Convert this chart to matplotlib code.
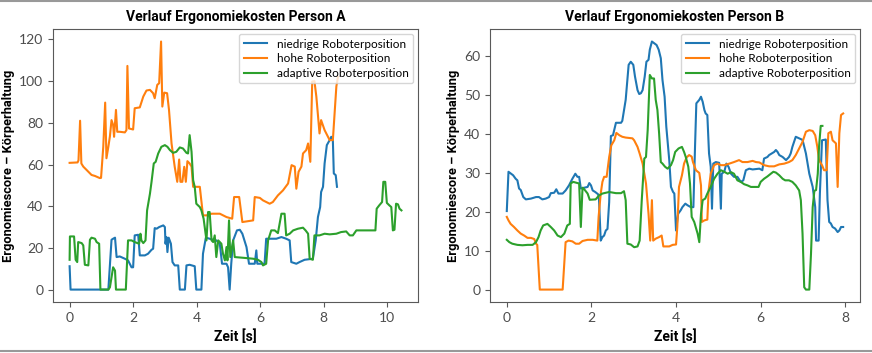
import matplotlib.pyplot as plt
from matplotlib.lines import Line2D

# Person A
a_t_niedrig = [0.0, 0.03, 1.22, 1.32, 1.37, 1.43, 1.48, 1.58, 1.74, 1.84, 1.95, 2.00, 2.05, 2.16, 2.21, 2.37,
               2.47, 2.58, 2.63, 2.68, 2.74, 2.82, 2.95, 3.00, 3.02, 3.05, 3.08, 3.12, 3.19, 3.24, 3.31, 3.42,
               3.47, 3.63, 3.68, 3.78, 3.94, 3.99, 4.15, 4.20, 4.29, 4.41, 4.52, 4.62, 4.73, 4.80, 4.94, 4.99,
               5.04, 5.09, 5.15, 5.27, 5.36, 5.44, 5.57, 5.65, 5.83, 5.88, 5.91, 6.14, 6.19, 6.51, 6.67, 6.82,
               6.93, 6.98, 7.14, 7.24, 7.40, 7.66, 7.75, 7.82, 7.89, 7.92, 7.98, 8.03, 8.10, 8.19, 8.24, 8.29,
               8.32, 8.38, 8.42]
a_v_niedrig = [11.2, 0, 0, 23.9, 24.4, 24.9, 15.6, 15.9, 14.8, 14.0, 10.7, 10.7, 26.0, 26.3, 16.4, 16.4,
               17.2, 19.1, 19.6, 29.5, 29.2, 30.0, 30.8, 30.0, 22.0, 25.2, 18.0, 24.9, 22.0, 13.2, 11.6, 11.6,
               0, 0, 11.6, 11.9, 11.2, 0, 0, 17.2, 24.9, 24.4, 23.9, 23.6, 22.0, 12.4, 12.4, 10.7,
               0, 12.4, 23.6, 28.4, 28.7, 26.8, 20.4, 12.4, 12.4, 18.8, 12.4, 12.4, 24.4, 24.4, 25.2, 24.4,
               23.6, 13.2, 12.4, 13.2, 14.3, 14.8, 23.6, 34.8, 39.6, 46.8, 49.3, 60.5, 69.3, 71.7, 73.3, 71.7,
               55.7, 54.9, 49.3]

a_t_hoch = [0.0, 0.25, 0.28, 0.33, 0.37, 0.43, 0.56, 0.69, 0.80, 0.95, 0.99, 1.06, 1.12, 1.16, 1.22, 1.27,
            1.32, 1.37, 1.40, 1.46, 1.50, 1.58, 1.74, 1.79, 1.82, 1.87, 2.00, 2.05, 2.21, 2.32, 2.42, 2.53,
            2.63, 2.68, 2.76, 2.82, 2.88, 2.92, 2.98, 3.07, 3.13, 3.21, 3.31, 3.39, 3.45, 3.49, 3.55, 3.61,
            3.66, 3.71, 3.78, 3.84, 3.89, 4.10, 4.20, 4.31, 4.47, 4.73, 4.94, 5.12, 5.18, 5.34, 5.44, 5.78,
            5.83, 5.99, 6.09, 6.30, 6.40, 6.56, 6.72, 6.88, 6.99, 7.09, 7.14, 7.21, 7.30, 7.35, 7.45, 7.51,
            7.58, 7.64, 7.71, 7.77, 7.87, 7.92, 8.03, 8.19, 8.29, 8.40, 8.45]
a_v_hoch = [60.8, 61.0, 62.0, 81.0, 60.5, 59.0, 57.0, 55.0, 54.5, 53.5, 53.6, 68.5, 89.7, 63.0, 68.5, 73.6,
            81.3, 79.0, 73.3, 86.2, 75.7, 75.7, 75.4, 76.5, 107.3, 77.3, 76.8, 87.0, 87.4, 92.6, 95.5, 95.8,
            94.2, 91.8, 98.2, 99.0, 119.0, 87.8, 94.5, 94.2, 86.2, 70.1, 58.9, 51.7, 62.4, 51.7, 51.7, 58.9,
            51.7, 61.6, 60.5, 59.0, 49.3, 49.3, 35.6, 35.6, 36.4, 36.4, 34.8, 34.0, 44.4, 44.4, 32.4, 33.2,
            44.4, 44.0, 42.8, 41.2, 42.0, 45.2, 47.6, 50.9, 59.7, 59.0, 48.4, 56.5, 59.0, 65.3, 66.9, 70.1,
            61.3, 99.8, 100.0, 92.6, 74.9, 81.3, 76.5, 71.7, 71.7, 97.4, 102.0]

a_t_adaptiv = [0.0, 0.01, 0.14, 0.19, 0.24, 0.27, 0.38, 0.43, 0.48, 0.59, 0.64, 0.69, 0.80, 0.85, 0.93, 0.97,
               1.22, 1.27, 1.37, 1.43, 1.46, 1.77, 1.84, 1.95, 2.05, 2.19, 2.23, 2.26, 2.32, 2.39, 2.44, 2.53,
               2.58, 2.65, 2.71, 2.79, 2.89, 3.00, 3.08, 3.16, 3.26, 3.36, 3.47, 3.57, 3.68, 3.73, 3.78, 3.84,
               3.89, 3.94, 3.99, 4.10, 4.15, 4.22, 4.31, 4.36, 4.41, 4.47, 4.52, 4.57, 4.62, 4.68, 4.78, 4.83,
               4.89, 4.94, 4.97, 5.02, 5.06, 5.15, 5.20, 5.51, 5.78, 5.93, 6.04, 6.09, 6.19, 6.25, 6.35, 6.46,
               6.56, 6.67, 6.77, 6.82, 6.93, 7.04, 7.19, 7.35, 7.43, 7.51, 7.56, 7.66, 7.71, 7.87, 8.03, 8.19,
               8.40, 8.55, 8.71, 8.82, 8.92, 9.03, 9.23, 9.44, 9.63, 9.67, 9.75, 9.84, 9.88, 9.94, 9.99, 10.07,
               10.13, 10.18, 10.23, 10.28, 10.34, 10.39, 10.45]
a_v_adaptiv = [14.3, 25.5, 25.5, 14.3, 13.2, 22.8, 22.3, 21.2, 11.9, 11.6, 23.9, 24.9, 24.4, 22.8, 22.0, 0,
               0, 1.1, 10.7, 9.1, 0, 0, 23.6, 23.6, 22.8, 22.0, 26.8, 23.6, 22.3, 23.6, 38.0, 46.0,
               51.7, 60.5, 61.3, 65.3, 68.5, 69.3, 68.5, 66.9, 65.6, 66.1, 68.2, 67.7, 65.6, 65.3, 74.1, 66.1,
               52.5, 49.3, 41.2, 39.6, 38.0, 34.0, 23.6, 37.2, 37.2, 23.6, 22.8, 26.0, 15.6, 23.6, 22.0, 17.2,
               14.0, 20.4, 14.0, 33.2, 15.6, 23.6, 15.6, 15.2, 14.8, 14.3, 13.2, 11.6, 12.4, 23.6, 28.4, 28.4,
               27.1, 36.4, 36.4, 26.0, 26.8, 28.4, 29.2, 29.7, 28.4, 26.8, 14.8, 14.3, 26.0, 26.0, 26.8, 26.5,
               26.8, 27.6, 27.9, 26.0, 26.0, 28.4, 28.4, 28.4, 28.4, 38.8, 40.4, 42.0, 51.7, 51.7, 41.6, 40.4,
               39.6, 28.4, 28.7, 41.2, 40.9, 38.8, 38.0]

# Person B
b_t_niedrig = [0.0, 0.04, 0.09, 0.15, 0.21, 0.25, 0.29, 0.33, 0.39, 0.45, 0.57, 0.69, 0.76, 0.84, 0.92, 1.00,
               1.04, 1.12, 1.17, 1.22, 1.32, 1.39, 1.47, 1.55, 1.62, 1.67, 1.71, 1.75, 1.91, 1.95, 1.99, 2.03,
               2.09, 2.16, 2.18, 2.22, 2.26, 2.30, 2.34, 2.38, 2.42, 2.46, 2.51, 2.58, 2.70, 2.73, 2.81, 2.88,
               2.93, 2.99, 3.03, 3.09, 3.13, 3.17, 3.21, 3.26, 3.30, 3.35, 3.38, 3.43, 3.48, 3.54, 3.59, 3.64,
               3.68, 3.73, 3.77, 3.84, 3.88, 3.93, 3.96, 4.00, 4.05, 4.11, 4.15, 4.22, 4.27, 4.35, 4.41, 4.45,
               4.48, 4.55, 4.59, 4.63, 4.67, 4.70, 4.74, 4.78, 4.82, 4.85, 4.88, 4.94, 5.02, 5.06, 5.08, 5.14,
               5.19, 5.24, 5.30, 5.37, 5.45, 5.53, 5.59, 5.65, 5.73, 5.81, 5.89, 5.97, 6.04, 6.08, 6.16, 6.20,
               6.26, 6.32, 6.36, 6.40, 6.44, 6.52, 6.60, 6.67, 6.71, 6.75, 6.79, 6.83, 6.91, 6.99, 7.03, 7.07,
               7.15, 7.23, 7.29, 7.31, 7.37, 7.40, 7.45, 7.54, 7.58, 7.62, 7.66, 7.70, 7.76, 7.82, 7.86, 7.90,
               7.95]
b_v_niedrig = [20.2, 30.3, 29.9, 29.4, 28.5, 28.1, 26.0, 25.6, 23.8, 23.2, 23.4, 23.8, 23.8, 23.2, 23.4, 23.8,
               24.8, 24.9, 25.8, 24.7, 24.7, 25.5, 26.8, 28.5, 29.8, 29.0, 29.0, 26.0, 26.4, 27.4, 26.8, 25.5,
               25.1, 24.5, 23.0, 12.6, 13.5, 13.9, 15.2, 15.6, 22.5, 39.5, 39.7, 42.9, 42.9, 43.4, 48.8, 57.8,
               58.6, 57.8, 54.8, 51.3, 50.3, 50.5, 51.3, 54.8, 58.6, 59.1, 61.7, 63.8, 63.4, 62.9, 61.7, 59.5,
               53.9, 49.6, 41.9, 33.3, 26.4, 25.1, 24.7, 15.2, 19.5, 20.4, 21.2, 22.1, 21.7, 21.2, 21.2, 37.1,
               47.9, 48.8, 49.6, 48.3, 46.2, 45.3, 44.9, 35.0, 31.6, 20.8, 32.4, 32.8, 32.6, 20.8, 29.8, 30.3,
               32.4, 31.6, 29.8, 29.0, 29.0, 27.7, 28.1, 30.7, 31.1, 30.9, 31.0, 31.1, 30.7, 33.7, 34.1, 34.6,
               35.0, 35.4, 35.9, 35.4, 34.6, 34.1, 33.3, 34.1, 35.0, 36.7, 38.0, 39.3, 38.9, 38.5, 36.7, 35.0,
               29.8, 26.4, 21.2, 12.6, 12.6, 24.7, 38.4, 38.6, 23.0, 17.4, 17.0, 16.1, 15.7, 14.8, 15.2, 16.1,
               16.1]

b_t_hoch = [0.0, 0.04, 0.09, 0.17, 0.25, 0.33, 0.41, 0.49, 0.57, 0.65, 0.69, 0.72, 0.78, 1.32, 1.39, 1.46,
            1.55, 1.63, 1.71, 1.79, 1.91, 2.03, 2.14, 2.17, 2.22, 2.26, 2.30, 2.36, 2.42, 2.47, 2.54, 2.59,
            2.66, 2.73, 2.81, 2.97, 3.01, 3.09, 3.14, 3.21, 3.29, 3.35, 3.39, 3.43, 3.46, 3.52, 3.60, 3.66,
            3.70, 3.84, 3.92, 4.00, 4.03, 4.07, 4.14, 4.19, 4.25, 4.31, 4.37, 4.40, 4.47, 4.55, 4.59, 4.61,
            4.67, 4.74, 4.77, 4.82, 4.90, 4.98, 5.06, 5.14, 5.26, 5.37, 5.49, 5.57, 5.69, 5.81, 5.89, 5.97,
            6.08, 6.20, 6.32, 6.44, 6.56, 6.67, 6.75, 6.83, 6.91, 6.99, 7.07, 7.15, 7.23, 7.29, 7.34, 7.38,
            7.45, 7.50, 7.56, 7.60, 7.66, 7.70, 7.78, 7.82, 7.86, 7.90, 7.95]
b_v_hoch = [18.7, 17.8, 16.9, 16.1, 15.2, 14.4, 13.9, 13.3, 13.3, 13.0, 11.8, 11.5, 0, 0, 12.2, 12.6,
            12.4, 11.8, 11.8, 12.5, 12.8, 12.8, 12.6, 18.7, 24.7, 27.7, 29.0, 29.0, 34.1, 37.1, 38.4, 40.3,
            39.7, 39.3, 39.1, 38.9, 38.4, 36.7, 35.0, 32.4, 27.3, 19.5, 12.6, 23.0, 12.6, 13.1, 13.5, 13.9,
            11.1, 11.1, 11.5, 11.6, 16.1, 26.4, 29.4, 32.4, 34.0, 34.6, 34.2, 32.8, 30.7, 30.0, 26.8, 17.4,
            17.8, 18.0, 25.5, 29.8, 32.0, 32.4, 32.0, 32.0, 32.4, 32.8, 33.3, 32.8, 32.8, 33.1, 32.8, 32.7,
            32.0, 31.7, 31.7, 32.2, 32.4, 32.8, 33.3, 34.6, 36.3, 38.0, 40.6, 41.0, 40.8, 39.7, 36.7, 33.3,
            32.0, 30.7, 30.7, 40.2, 40.6, 38.4, 37.6, 26.4, 40.2, 44.9, 45.3]

b_t_adaptiv = [0.0, 0.06, 0.13, 0.25, 0.37, 0.49, 0.61, 0.69, 0.75, 0.80, 0.86, 0.96, 1.04, 1.12, 1.20, 1.28,
               1.36, 1.43, 1.49, 1.51, 1.57, 1.67, 1.71, 1.75, 1.79, 1.83, 1.91, 1.96, 2.10, 2.18, 2.26, 2.42,
               2.58, 2.70, 2.77, 2.81, 2.85, 2.93, 3.01, 3.09, 3.14, 3.19, 3.25, 3.29, 3.33, 3.38, 3.43, 3.48,
               3.52, 3.56, 3.60, 3.64, 3.68, 3.74, 3.80, 3.88, 3.93, 3.98, 4.06, 4.14, 4.19, 4.23, 4.29, 4.33,
               4.37, 4.43, 4.51, 4.55, 4.59, 4.63, 4.69, 4.74, 4.82, 4.90, 4.98, 5.06, 5.14, 5.22, 5.30, 5.37,
               5.45, 5.53, 5.61, 5.69, 5.77, 5.95, 6.00, 6.08, 6.16, 6.24, 6.30, 6.36, 6.44, 6.52, 6.58, 6.67,
               6.75, 6.83, 6.91, 6.95, 6.99, 7.03, 7.07, 7.15, 7.19, 7.23, 7.27, 7.31, 7.35, 7.38, 7.42, 7.46]
b_v_adaptiv = [12.8, 12.2, 11.8, 11.5, 11.4, 11.5, 11.5, 12.2, 13.5, 15.2, 16.5, 16.9, 16.1, 15.2, 13.9, 13.5,
               14.4, 16.5, 16.9, 27.3, 27.7, 27.4, 27.3, 16.1, 26.2, 25.8, 24.7, 23.1, 23.2, 24.2, 24.7, 25.1,
               24.8, 24.8, 25.3, 23.0, 11.8, 11.6, 10.9, 11.1, 12.6, 23.0, 33.7, 34.1, 41.0, 55.2, 54.3, 54.3,
               48.8, 46.2, 40.2, 32.8, 32.4, 31.6, 31.1, 32.0, 33.3, 35.4, 36.3, 36.7, 35.4, 34.1, 31.6, 27.3,
               18.7, 17.4, 14.4, 12.2, 19.5, 23.0, 23.4, 24.7, 26.4, 28.5, 29.8, 30.7, 30.3, 29.8, 30.2, 29.8,
               28.1, 27.7, 27.1, 26.8, 26.4, 26.4, 27.7, 28.5, 29.1, 29.8, 30.3, 30.1, 29.4, 28.5, 28.1, 28.1,
               27.7, 26.8, 25.5, 23.0, 14.4, 0.6, 0, 0, 9.2, 21.2, 25.4, 25.6, 29.8, 36.7, 42.1, 42.1]

labels = ['niedrige Roboterposition', 'hohe Roboterposition', 'adaptive Roboterposition']
titles = ['Verlauf Ergonomiekosten Person A', 'Verlauf Ergonomiekosten Person B']

fett = ['Roboto', 'DejaVu Sans']
duenn = ['Lato', 'DejaVu Sans']

fig = plt.figure(figsize=(8.72, 3.53), dpi=100)
ax1 = fig.add_axes([0.0608, 0.1445, 0.4186, 0.773])
ax2 = fig.add_axes([0.5619, 0.1445, 0.4243, 0.773])

daten = [
    (ax1, [(a_t_niedrig, a_v_niedrig), (a_t_hoch, a_v_hoch), (a_t_adaptiv, a_v_adaptiv)], titles[0]),
    (ax2, [(b_t_niedrig, b_v_niedrig), (b_t_hoch, b_v_hoch), (b_t_adaptiv, b_v_adaptiv)], titles[1]),
]

for ax, serien, titel in daten:
    for (t, v), lab in zip(serien, labels):
        ax.plot(t, v, lw=1.5, label=lab)
    ax.set_title(titel, fontsize=10, fontweight='bold', family=fett, pad=6)
    ax.set_xlabel('Zeit [s]', fontsize=10, fontweight='bold', family=fett, labelpad=4)
    ax.set_ylabel('Ergonomiescore – Körperhaltung', fontsize=9.3, fontweight='bold', family=fett,
                  labelpad=3)
    for sp in ax.spines.values():
        sp.set_color('0.35')
    ax.tick_params(colors='0.35', labelcolor='0.3', labelsize=10)
    for lbl in ax.get_xticklabels() + ax.get_yticklabels():
        lbl.set_family(duenn)
    ax.legend(loc='upper right', prop={'family': duenn, 'size': 8.5},
              labelspacing=0.3, borderaxespad=0.4)

# graue Linien oben und unten
fig.add_artist(Line2D([0, 1], [0.997, 0.997], color='0.6', lw=1.5, transform=fig.transFigure))
fig.add_artist(Line2D([0, 1], [0.006, 0.006], color='0.6', lw=1.5, transform=fig.transFigure))

plt.savefig('out.png', dpi=100)
